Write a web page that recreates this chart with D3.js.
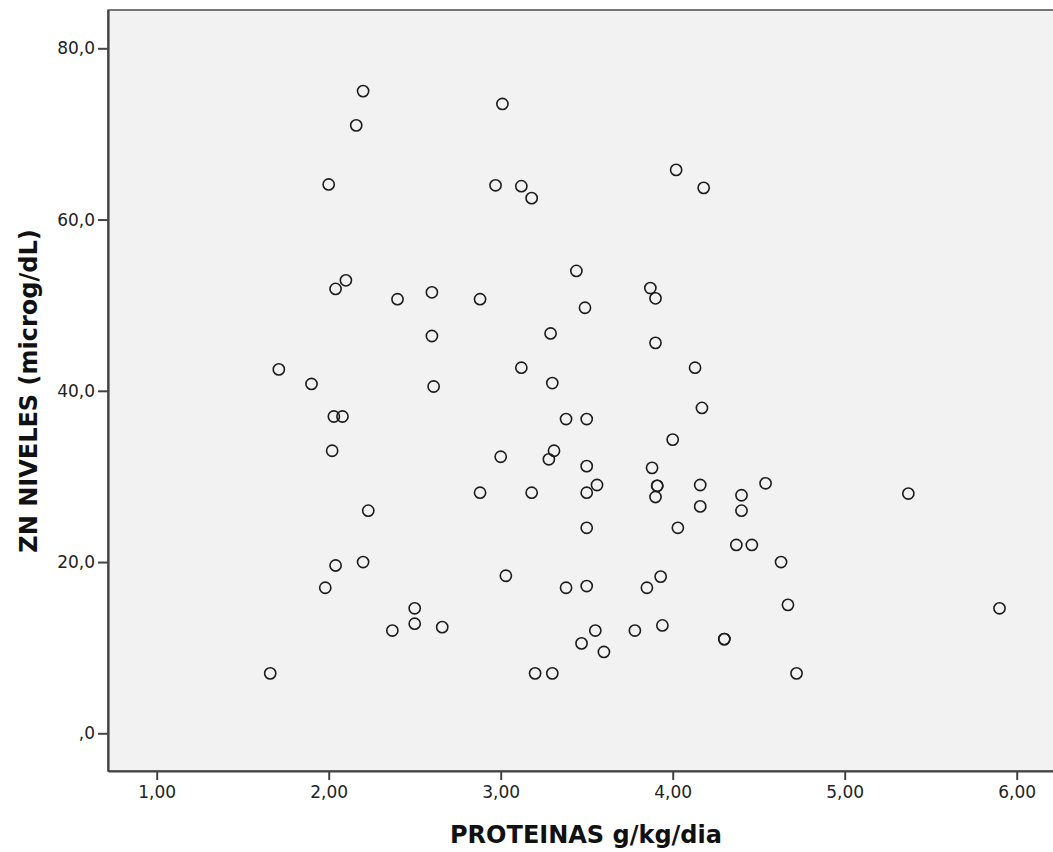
<!DOCTYPE html>
<html>
<head>
<meta charset="utf-8">
<script src="https://cdn.jsdelivr.net/npm/d3@7.9.0/dist/d3.min.js"></script>
<style>
  html, body { margin: 0; padding: 0; background: #fff; overflow: hidden; }
  svg { display: block; }
</style>
</head>
<body>
<svg id="chart" width="1053" height="852"></svg>
<script>
// PROTEINAS g/kg/dia (x) and ZN NIVELES microg/dL (y)
const proteinas = [
  1.66, 1.71, 1.90, 1.98, 2.00, 2.02, 2.03, 2.04, 2.04, 2.08,
  2.10, 2.16, 2.20, 2.20, 2.23, 2.37, 2.40, 2.50, 2.50, 2.60,
  2.60, 2.61, 2.66, 2.88, 2.88, 2.97, 3.00, 3.01, 3.03, 3.12,
  3.12, 3.18, 3.18, 3.20, 3.28, 3.29, 3.30, 3.31, 3.30, 3.38,
  3.38, 3.44, 3.47, 3.49, 3.50, 3.50, 3.50, 3.50, 3.50, 3.55,
  3.56, 3.60, 3.78, 3.85, 3.87, 3.88, 3.90, 3.90, 3.90, 3.91,
  3.91, 3.93, 3.94, 4.00, 4.02, 4.03, 4.13, 4.16, 4.16, 4.17,
  4.18, 4.30, 4.30, 4.37, 4.40, 4.40, 4.46, 4.54, 4.63, 4.67,
  4.72, 5.37, 5.90
];
const zinc = [
  7.0, 42.5, 40.8, 17.0, 64.1, 33.0, 37.0, 51.9, 19.6, 37.0,
  52.9, 71.0, 75.0, 20.0, 26.0, 12.0, 50.7, 14.6, 12.8, 51.5,
  46.4, 40.5, 12.4, 50.7, 28.1, 64.0, 32.3, 73.5, 18.4, 63.9,
  42.7, 62.5, 28.1, 7.0, 32.0, 46.7, 40.9, 33.0, 7.0, 36.7,
  17.0, 54.0, 10.5, 49.7, 36.7, 31.2, 28.1, 24.0, 17.2, 12.0,
  29.0, 9.5, 12.0, 17.0, 52.0, 31.0, 50.8, 45.6, 27.6, 28.9,
  28.9, 18.3, 12.6, 34.3, 65.8, 24.0, 42.7, 29.0, 26.5, 38.0,
  63.7, 11.0, 11.0, 22.0, 27.8, 26.0, 22.0, 29.2, 20.0, 15.0,
  7.0, 28.0, 14.6
];
const xTicks = [1, 2, 3, 4, 5, 6];
const yTicks = [0, 20, 40, 60, 80];

const xLabel = "PROTEINAS g/kg/dia";
const yLabel = "ZN NIVELES (microg/dL)";

const svg = d3.select("#chart");

// plot frame (right edge runs off the picture)
const frame = { left: 108, top: 10, right: 1060, bottom: 771 };

const x = d3.scaleLinear()
  .domain([1 + (frame.left - 156.7) / 172, 1 + (frame.right - 156.7) / 172])
  .range([frame.left, frame.right]);
const y = d3.scaleLinear()
  .domain([(733.3 - frame.bottom) / 8.5625, (733.3 - frame.top) / 8.5625])
  .range([frame.bottom, frame.top]);

// comma decimal format, SPSS style
const fmtX = d => d.toFixed(2).replace(".", ",");
const fmtY = d => d === 0 ? ",0" : d.toFixed(1).replace(".", ",");

svg.append("rect")
  .attr("x", frame.left)
  .attr("y", frame.top)
  .attr("width", frame.right - frame.left)
  .attr("height", frame.bottom - frame.top)
  .attr("fill", "#f2f2f2")
  .attr("stroke", "#222")
  .attr("stroke-width", 1.2);

// X axis
const xAxis = svg.append("g")
  .attr("transform", `translate(0,${frame.bottom})`)
  .call(d3.axisBottom(x).tickValues(xTicks).tickFormat(fmtX).tickSize(9).tickSizeOuter(0).tickPadding(6));
xAxis.select(".domain").attr("stroke", "#444").attr("stroke-width", 2.2);
xAxis.selectAll(".tick line").attr("stroke", "#444").attr("stroke-width", 2);
xAxis.selectAll(".tick text")
  .attr("font-family", "DejaVu Sans, Verdana, sans-serif")
  .attr("font-size", 17)
  .attr("fill", "#222");

// Y axis
const yAxis = svg.append("g")
  .attr("transform", `translate(${frame.left},0)`)
  .call(d3.axisLeft(y).tickValues(yTicks).tickFormat(fmtY).tickSize(10).tickSizeOuter(0).tickPadding(3));
yAxis.select(".domain").attr("stroke", "#444").attr("stroke-width", 2.2);
yAxis.selectAll(".tick line").attr("stroke", "#444").attr("stroke-width", 2);
yAxis.selectAll(".tick text")
  .attr("font-family", "DejaVu Sans, Verdana, sans-serif")
  .attr("font-size", 17)
  .attr("fill", "#222");

// points
svg.append("g")
  .selectAll("circle")
  .data(d3.zip(proteinas, zinc))
  .join("circle")
  .attr("cx", d => x(d[0]))
  .attr("cy", d => y(d[1]))
  .attr("r", 5.6)
  .attr("fill", "none")
  .attr("stroke", "#1c1c1c")
  .attr("stroke-width", 1.6);

// axis titles
svg.append("text")
  .attr("x", 586)
  .attr("y", 843)
  .attr("text-anchor", "middle")
  .attr("font-family", "DejaVu Sans, Verdana, sans-serif")
  .attr("font-weight", "bold")
  .attr("font-size", 24)
  .attr("fill", "#111")
  .text(xLabel);

svg.append("text")
  .attr("transform", "translate(37,391) rotate(-90)")
  .attr("text-anchor", "middle")
  .attr("font-family", "DejaVu Sans, Verdana, sans-serif")
  .attr("font-weight", "bold")
  .attr("font-size", 24)
  .attr("fill", "#111")
  .text(yLabel);
</script>
</body>
</html>
